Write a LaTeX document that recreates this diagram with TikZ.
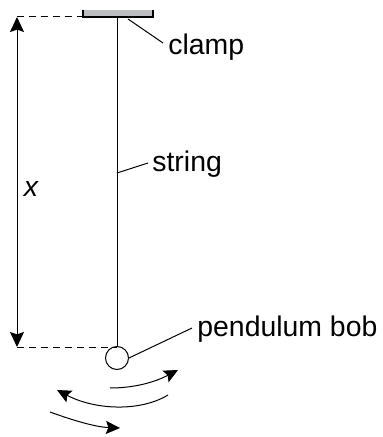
\documentclass[tikz,border=0pt]{standalone}
\usepackage{fontspec}
\setmainfont{Liberation Sans}
\usetikzlibrary{arrows.meta}
\usetikzlibrary{positioning}
\definecolor{clampgray}{RGB}{188,190,194}
\tikzset{
  lbl/.style={inner sep=0pt, font=\fontsize{14.2}{17}\selectfont},
  thinline/.style={line width=0.5pt},
  dashline/.style={line width=0.5pt, dash pattern=on 3.5pt off 2.5pt},
  swing/.style={line width=0.5pt, -{Stealth[length=7pt,width=6.5pt,inset=1.2pt]}},
}
\begin{document}
\begin{tikzpicture}[x=0.5pt,y=-0.5pt]
\useasboundingbox (0,0) rectangle (382,437);
% clamp
\fill[clampgray] (83,10) rectangle (153,17);
\draw[line width=1pt] (83,10)--(83,17)--(153,17)--(153,10);
\coordinate (top) at (117,17);
% bob and string
\node[circle, draw, thinline, minimum size=11.5pt, inner sep=0pt] (bob) at (117,358) {};
\draw[thinline] (top)--(bob.north);
% height x
\coordinate (xtop) at (17,17);
\coordinate (xbot) at (17,347);
\draw[dashline] (xtop)--(83,17);
\draw[dashline] (xbot)--(xbot -| bob.north);
\draw[thinline, {Stealth[length=7.5pt,width=7pt,inset=1.2pt]}-{Stealth[length=7.5pt,width=7pt,inset=1.2pt]}] (xtop)--(xbot);
\node[lbl, font=\fontsize{14.2}{17}\selectfont\itshape] (xlbl) at (31,189) {x};
% labels
\node[lbl, anchor=base west] (clamplbl) at (168,55) {clamp};
\node[lbl, anchor=base west] (stringlbl) at (152,172) {string};
\node[lbl, anchor=base west] (boblbl) at (197,336) {pendulum bob};
\draw[thinline] (128,19)--(163,43);
\draw[thinline] (117,173)--(148,163);
\draw[thinline] (bob.east)--(192,328);
% swing
\draw[swing] (110,388) .. controls (135,388) and (155,382) .. (178,370);
\draw[swing] (168,395) .. controls (140,412) and (95,410) .. (57,390);
\draw[swing] (50,412) .. controls (72,420) and (95,427) .. (120,428);
\end{tikzpicture}
\end{document}
